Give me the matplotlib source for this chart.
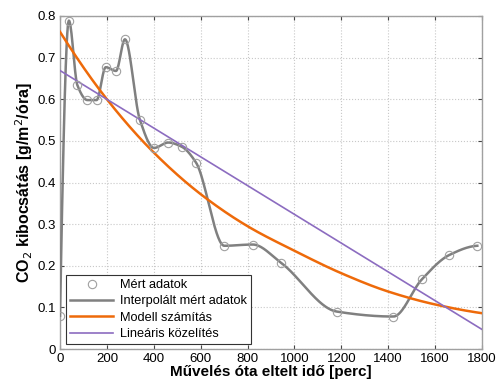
import numpy as np
import matplotlib
matplotlib.use("Agg")
import matplotlib.pyplot as plt

plt.rcParams['font.family'] = ['Liberation Sans', 'DejaVu Sans']

# measured data
t_meas = [0, 38, 74, 117, 156, 195, 239, 277, 341, 401, 462, 519, 580, 701, 822, 943, 1180, 1422, 1543, 1661, 1780]
v_meas = [0.080, 0.789, 0.634, 0.598, 0.598, 0.677, 0.668, 0.744, 0.550, 0.483, 0.496, 0.486, 0.448,
          0.248, 0.251, 0.207, 0.090, 0.078, 0.167, 0.226, 0.248]

# model curve read at grid positions
t_model = [0, 200, 400, 600, 800, 1000, 1200, 1400, 1600, 1800]
v_model = [0.762, 0.600, 0.472, 0.372, 0.295, 0.236, 0.182, 0.138, 0.107, 0.086]

# linear approximation endpoints
t_lin = [0, 1800]
v_lin = [0.669, 0.047]

xticks = [0, 200, 400, 600, 800, 1000, 1200, 1400, 1600, 1800]
yticks = [0, 0.1, 0.2, 0.3, 0.4, 0.5, 0.6, 0.7, 0.8]
ytick_labels = ['0', '0.1', '0.2', '0.3', '0.4', '0.5', '0.6', '0.7', '0.8']


def pchip(x, y, xn):
    x = np.asarray(x, float); y = np.asarray(y, float)
    h = np.diff(x); delta = np.diff(y) / h
    n = len(x)
    d = np.zeros(n)
    for k in range(1, n - 1):
        if delta[k - 1] * delta[k] <= 0:
            d[k] = 0
        else:
            w1 = 2 * h[k] + h[k - 1]; w2 = h[k] + 2 * h[k - 1]
            d[k] = (w1 + w2) / (w1 / delta[k - 1] + w2 / delta[k])

    def edge(h0, h1, m0, m1):
        dd = ((2 * h0 + h1) * m0 - h0 * m1) / (h0 + h1)
        if np.sign(dd) != np.sign(m0):
            dd = 0
        elif np.sign(m0) != np.sign(m1) and abs(dd) > abs(3 * m0):
            dd = 3 * m0
        return dd
    d[0] = edge(h[0], h[1], delta[0], delta[1])
    d[-1] = edge(h[-1], h[-2], delta[-1], delta[-2])
    xn = np.asarray(xn, float)
    idx = np.clip(np.searchsorted(x, xn) - 1, 0, n - 2)
    hh = h[idx]; s = (xn - x[idx]) / hh
    h00 = 2 * s**3 - 3 * s**2 + 1; h10 = s**3 - 2 * s**2 + s
    h01 = -2 * s**3 + 3 * s**2; h11 = s**3 - s**2
    return h00 * y[idx] + h10 * hh * d[idx] + h01 * y[idx + 1] + h11 * hh * d[idx + 1]


fig = plt.figure(figsize=(4.97, 3.85), dpi=100)
ax = fig.add_axes([60 / 497, 36 / 385, 422 / 497, 333 / 385])

tt = np.linspace(t_meas[0], t_meas[-1], 800)
tm = np.linspace(t_model[0], t_model[-1], 400)

ax.plot(t_meas, v_meas, linestyle='none', marker='o', markersize=6, markerfacecolor='none',
        markeredgecolor='#a0a0a0', markeredgewidth=0.8, label='Mért adatok', zorder=4)
ax.plot(tt, pchip(t_meas, v_meas, tt), color='#808080', lw=1.8, label='Interpolált mért adatok', zorder=3)
ax.plot(tm, pchip(t_model, v_model, tm), color='#ee6a0a', lw=1.8, label='Modell számítás', zorder=3)
ax.plot(t_lin, v_lin, color='#8c6cc0', lw=1.2, label='Lineáris közelítés', zorder=3)

ax.set_xlim(0, 1800)
ax.set_ylim(0, 0.8)
ax.set_xticks(xticks)
ax.set_yticks(yticks)
ax.set_yticklabels(ytick_labels)
ax.tick_params(direction='in', top=True, right=True, labelsize=9.5, length=3, color='#444444',
               pad=3)
ax.grid(True, linestyle=':', color='#c8c8c8', lw=0.8)
for s in ax.spines.values():
    s.set_color('#a0a0a0')
    s.set_linewidth(1.0)

ax.set_xlabel('Művelés óta eltelt idő [perc]', fontsize=11, fontweight='bold', labelpad=0)
ax.set_ylabel('CO$_2$ kibocsátás [g/m$^2$/óra]', fontsize=11.5, fontweight='bold', labelpad=2)

leg = ax.legend(loc='lower left', bbox_to_anchor=(6 / 422, 5 / 333), fontsize=9.2, frameon=True,
                fancybox=False, edgecolor='#333333', framealpha=1, borderpad=0.3,
                labelspacing=0.34, handlelength=3.4, handletextpad=0.5, borderaxespad=0)
leg.get_frame().set_linewidth(0.8)

fig.savefig('out.png', dpi=100)
